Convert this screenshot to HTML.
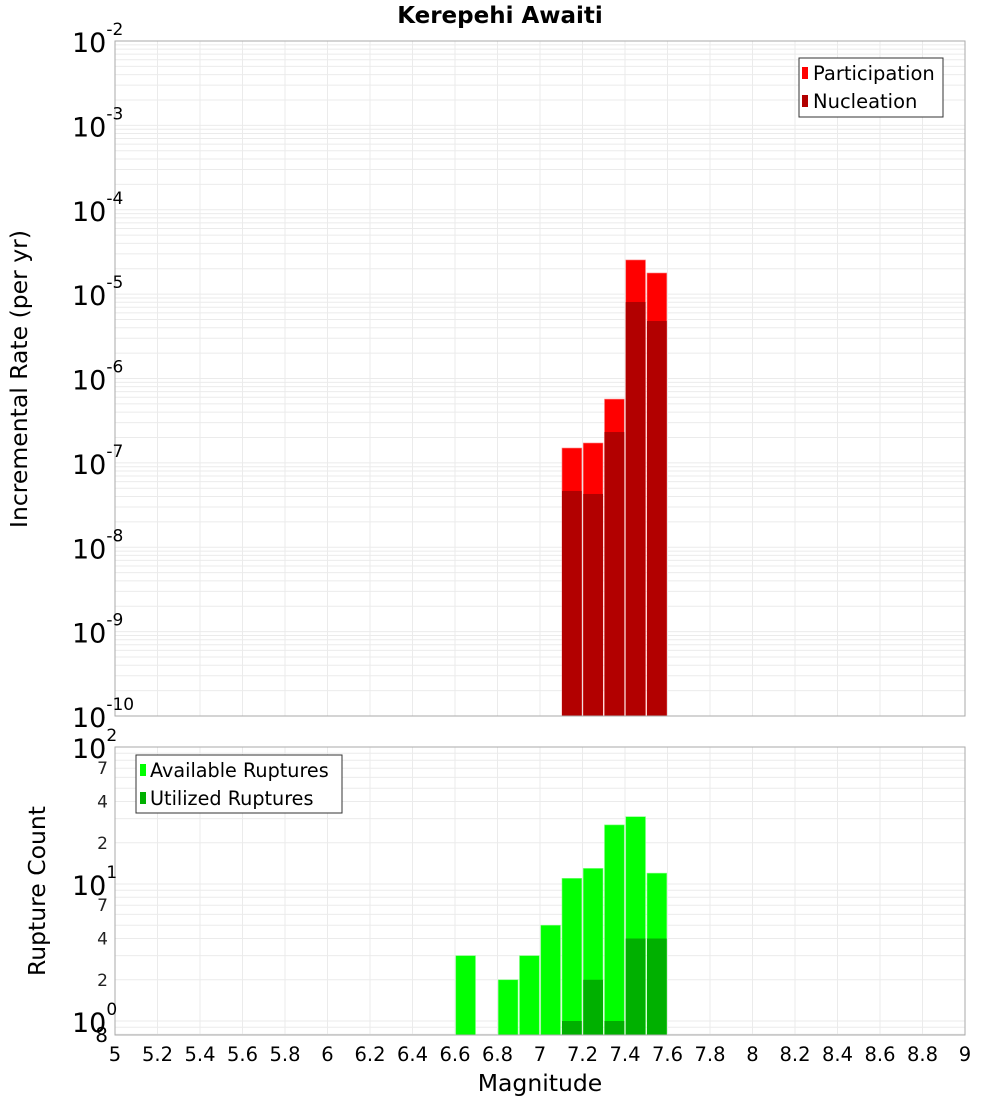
<!DOCTYPE html>
<html><head><meta charset="utf-8"><style>
body{margin:0;background:#fff}
svg{display:block;font-family:"DejaVu Sans","Liberation Sans",sans-serif}
</style></head><body>
<svg id="chart" width="1000" height="1100" viewBox="0 0 1000 1100" xmlns="http://www.w3.org/2000/svg">
<text x="500" y="23" text-anchor="middle" font-size="23" font-weight="bold">Kerepehi Awaiti</text>
<g id="topg"></g><g id="botg"></g>
</svg>
<script>
const magBins=[7.1,7.2,7.3,7.4,7.5];
const participation=[1.5e-7,1.72e-7,5.7e-7,2.54e-5,1.78e-5];
const nucleation=[4.65e-8,4.28e-8,2.32e-7,8.07e-6,4.8e-6];
const countBins=[6.6,6.8,6.9,7.0,7.1,7.2,7.3,7.4,7.5];
const available=[3,2,3,5,11,13,27,31,12];
const utilBins=[7.1,7.2,7.3,7.4,7.5];
const utilized=[1,2,1,4,4];
const xTicks=[5,5.2,5.4,5.6,5.8,6,6.2,6.4,6.6,6.8,7,7.2,7.4,7.6,7.8,8,8.2,8.4,8.6,8.8,9];
const topExps=[-2,-3,-4,-5,-6,-7,-8,-9,-10];
const botMinor=[7,4,2];

const NS='http://www.w3.org/2000/svg';
const L=115,R=965;
function X(m){return L+(m-5)/4*(R-L);}
const TT=41,TB=716;
function YT(v){return TT+(-2-Math.log10(v))/8*(TB-TT);}
const BT=747,BB=1035,DEC=137;
function YB(v){return BT+(2-Math.log10(v))*DEC;}
function el(parent,tag,attrs,txt){const e=document.createElementNS(NS,tag);for(const k in attrs)e.setAttribute(k,attrs[k]);if(txt!==undefined)e.textContent=txt;parent.appendChild(e);return e;}
const topG=document.getElementById('topg'),botG=document.getElementById('botg');

let r=el(topG,'rect',{x:L,y:TT,width:R-L,height:TB-TT,fill:'#fff',stroke:'none'});


for(let e=-10;e<-2;e++){for(let k=1;k<10;k++){const y=YT(k*Math.pow(10,e));const g=el(topG,'line',{x1:L,x2:R,y1:y,y2:y,stroke:'#ebebeb','stroke-width':1});

}}
for(const t of xTicks){const x=X(t);const g=el(topG,'line',{x1:x,x2:x,y1:TT,y2:TB,stroke:'#ebebeb'});


 const g2=el(botG,'line',{x1:x,x2:x,y1:BT,y2:BB,stroke:'#ebebeb'});

}
const bw=(X(5.1)-X(5))-1.5;
magBins.forEach((m,i)=>{
 const y1=YT(participation[i]);
 const b=el(topG,'rect',{x:X(m)+0.75,y:y1,width:bw,height:TB-y1,fill:'#ff0000',stroke:'#ff8080','stroke-width':0.6});
 
 
 const y2=YT(nucleation[i]);
 const n=el(topG,'rect',{x:X(m)+0.75,y:y2,width:bw,height:TB-y2,fill:'#b20000'});
 
 
});
let f=el(topG,'rect',{x:L,y:TT,width:R-L,height:TB-TT,fill:'none',stroke:'#aaa'});


topExps.forEach(e=>{
 const y=YT(Math.pow(10,e));
 const t=el(topG,'text',{x:72,y:y+11,'font-size':27});
 
 
 t.textContent='10';
 el(t,'tspan',{'font-size':17,dy:-17},String(e));
});
let yt=el(topG,'text',{transform:'translate(27,379) rotate(-90)','text-anchor':'middle','font-size':23.5},'Incremental Rate (per yr)');


let lg=el(topG,'g',{});


el(lg,'rect',{x:799,y:58,width:144,height:59,fill:'#fff',stroke:'#333'});
el(lg,'rect',{x:802,y:67,width:6,height:12,fill:'#ff0000'});
el(lg,'text',{x:813,y:80,'font-size':19.5},'Participation');
el(lg,'rect',{x:802,y:95,width:6,height:12,fill:'#b20000'});
el(lg,'text',{x:813,y:108,'font-size':19.5},'Nucleation');

for(let e=-1;e<2;e++){for(let k=1;k<10;k++){const v=k*Math.pow(10,e);const y=YB(v);if(y>BB||y<BT)continue;const g=el(botG,'line',{x1:L,x2:R,y1:y,y2:y,stroke:'#ebebeb'});

}}
countBins.forEach((m,i)=>{
 const y=YB(available[i]);
 const b=el(botG,'rect',{x:X(m)+0.75,y:y,width:bw,height:BB-y,fill:'#00ff00',stroke:'#80ff80','stroke-width':0.6});
 
 
});
utilBins.forEach((m,i)=>{
 const y=YB(utilized[i]);
 const b=el(botG,'rect',{x:X(m)+0.75,y:y,width:bw,height:BB-y,fill:'#00b000'});
 
 
});
f=el(botG,'rect',{x:L,y:BT,width:R-L,height:BB-BT,fill:'none',stroke:'#aaa'});


[2,1,0].forEach(e=>{
 const y=YB(Math.pow(10,e));
 const t=el(botG,'text',{x:72,y:y+11,'font-size':27});
 
 
 t.textContent='10';
 el(t,'tspan',{'font-size':17,dy:-17},String(e));
});
[1,0].forEach(e=>{botMinor.forEach(k=>{
 const y=YB(k*Math.pow(10,e));
 const t=el(botG,'text',{x:108,y:y+6,'font-size':17,'text-anchor':'end','fill':'#222'},String(k));
 
 
});});
let t8=el(botG,'text',{x:108,y:1042,'font-size':20,'text-anchor':'end'},'8');


xTicks.forEach(t=>{
 const tx=el(botG,'text',{x:X(t),y:1061,'text-anchor':'middle','font-size':19.5},String(t));
 
 
});
let xt=el(botG,'text',{x:540,y:1091,'text-anchor':'middle','font-size':23.5},'Magnitude');


let yb=el(botG,'text',{transform:'translate(45,891) rotate(-90)','text-anchor':'middle','font-size':23.5},'Rupture Count');


let lg2=el(botG,'g',{});


el(lg2,'rect',{x:136,y:755,width:206,height:58,fill:'#fff',stroke:'#333'});
el(lg2,'rect',{x:140,y:764,width:6,height:12,fill:'#00ff00'});
el(lg2,'text',{x:150,y:777,'font-size':19.2},'Available Ruptures');
el(lg2,'rect',{x:140,y:792,width:6,height:12,fill:'#00b000'});
el(lg2,'text',{x:150,y:805,'font-size':19.2},'Utilized Ruptures');
</script>
</body></html>
